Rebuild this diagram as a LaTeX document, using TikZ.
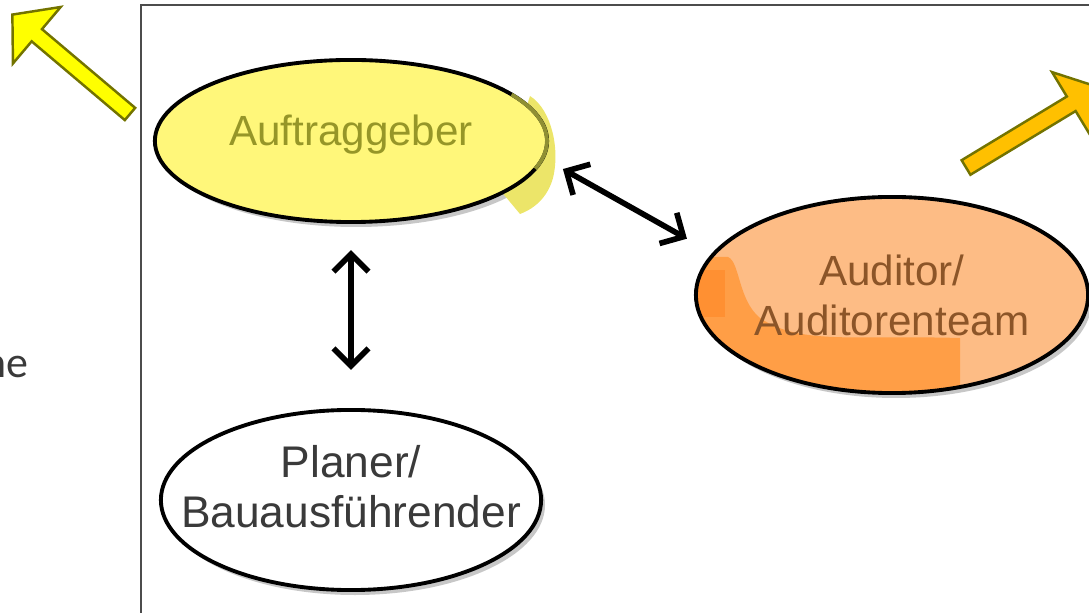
\documentclass[tikz,border=0pt]{standalone}
\usepackage{fontspec}
\setmainfont{Liberation Sans}
\newfontfamily\calfont{Carlito}
\usetikzlibrary{shapes.geometric,arrows.meta}
\definecolor{gelbfl}{RGB}{255,247,122}
\definecolor{gelbrand}{RGB}{236,229,105}
\definecolor{gelbtext}{RGB}{150,150,40}
\definecolor{orfl}{RGB}{253,188,133}
\definecolor{ordunkel}{RGB}{255,158,70}
\definecolor{ordunkler}{RGB}{255,144,50}
\definecolor{ortext}{RGB}{140,85,40}
\definecolor{grautext}{RGB}{58,58,58}
\definecolor{pfgelb}{RGB}{255,255,0}
\definecolor{pforange}{RGB}{255,192,0}
\definecolor{pfrand}{RGB}{115,115,0}

\begin{document}
\begin{tikzpicture}[x=0.01cm,y=-0.01cm,
  rolle/.style={ellipse,draw=black,line width=1.1pt,inner sep=0pt,outer sep=0pt,
    align=center,font=\fontsize{12}{14.2}\selectfont},
  schatten/.style={fill=black,opacity=0.22},
  pfeil/.style={line width=1.6pt,{Straight Barb[length=5pt,width=10pt]}-{Straight Barb[length=5pt,width=10pt]}},
  blockpfeil/.style={line width=0.7pt,draw=pfrand,line join=miter}]
\useasboundingbox (0,0) rectangle (1089,613);
\clip (0,0) rectangle (1089,613);

% Rahmen
\draw[line width=0.7pt,black!70] (141,5) rectangle (1110,630);

% Auftraggeber
\fill[schatten] (356,146) ellipse [x radius=196,y radius=81];
\fill[gelbrand] (530,96) .. controls (552,110) and (560,150) .. (553,178)
  .. controls (548,196) and (536,208) .. (520,214) -- (500,190) -- cycle;
\fill[gelbfl] (351,141) ellipse [x radius=196,y radius=81];
\node[rolle,minimum width=3.92cm,minimum height=1.62cm,text=gelbtext] (auf) at (351,141) {\raisebox{1.8pt}[\height][\depth]{Auftraggeber}};
\draw[line width=1.1pt,pfrand!80] (351,141) ++(20:196 and 81) arc [start angle=20,end angle=-35,x radius=196,y radius=81];

% Auditor
\fill[schatten] (896,300) ellipse [x radius=196,y radius=98];
\fill[orfl] (892,295) ellipse [x radius=196,y radius=98];
\begin{scope}
  \clip (892,295) ellipse [x radius=196,y radius=98];
  \fill[ordunkel] (690,257) -- (728,257) .. controls (740,262) and (738,300) .. (760,318)
    .. controls (800,345) and (850,335) .. (960,338) -- (960,400) -- (690,400) -- cycle;
  \fill[ordunkler] (690,270) rectangle (725,317);
\end{scope}
\node[rolle,minimum width=3.92cm,minimum height=1.96cm,text=ortext] (aud) at (892,295) {Auditor/\\Auditorenteam};

% Planer
\fill[schatten] (355,505) ellipse [x radius=190,y radius=90];
\fill[white] (351,500) ellipse [x radius=190,y radius=90];
\node[rolle,minimum width=3.8cm,minimum height=1.8cm,inner xsep=-0.5cm,text=grautext,
  font=\fontsize{12.6}{14.2}\selectfont] (plan) at (351,500) {\raisebox{3.7pt}[\height][\depth]{\shortstack{Planer/\\[2pt]Bauausführender}}};

% Verbindungen
\draw[pfeil,shorten <=0.23cm,shorten >=0.31cm] (auf.-5.4) -- (aud.167.4);
\draw[pfeil,shorten <=0.28cm,shorten >=0.40cm] (auf.south) -- (plan.north);

% Blockpfeile
\begin{scope}[shift={(130,114)},rotate=139.8]
  \filldraw[blockpfeil,fill=pfgelb] (0,-8) -- (122,-8) -- (122,-37) -- (154,0) -- (122,37) -- (122,8) -- (0,8) -- cycle;
\end{scope}
\begin{scope}[shift={(966,167.5)},rotate=31.2]
  \filldraw[blockpfeil,fill=pforange] (0,-8.5) -- (123,-8.5) -- (123,-37) -- (155,0) -- (123,37) -- (123,8.5) -- (0,8.5) -- cycle;
\end{scope}

\node[anchor=base east,inner sep=0pt,text=grautext,font=\calfont\fontsize{12.5}{15}\selectfont] (rest) at (29,378) {ne};
\end{tikzpicture}
\end{document}
